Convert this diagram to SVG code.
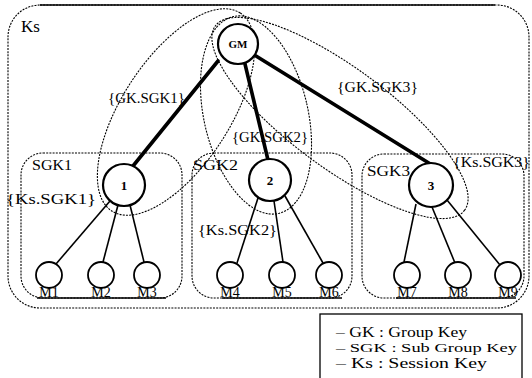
<svg xmlns="http://www.w3.org/2000/svg" width="532" height="378" viewBox="0 0 532 378">
<style>
  .dot{fill:none;stroke:#000;stroke-width:1.1;stroke-dasharray:2 1.2}
  .solid{fill:none;stroke:#000;stroke-width:1.6}
  .thick{stroke:#000;stroke-width:3.6;stroke-linecap:round}
  .thin{stroke:#000;stroke-width:1.6}
  .node{fill:#fff;stroke:#000;stroke-width:2.2}
  .leaf{fill:#fff;stroke:#000;stroke-width:1.8}
  text{font-family:"Liberation Serif","Times New Roman",serif;fill:#000}
  .lbl{font-size:15.5px}
  .nl{font-size:13px;font-weight:bold;text-anchor:middle}
  .ml{font-size:14px;text-anchor:middle}
</style>
<rect width="532" height="378" fill="#fff"/>

<g id="group-Ks">
  <rect class="dot" x="8" y="5" width="521" height="303" rx="32"/>
  <line class="solid" x1="40" y1="5" x2="495" y2="5"/>
  <text x="21" y="32" style="font-size:17px">Ks</text>
</g>

<g id="group-SGK1">
  <rect class="dot" x="21" y="153" width="161" height="145" rx="22"/>
  <line class="solid" x1="37" y1="298" x2="166" y2="298"/>
  <text class="lbl" x="32" y="170" textLength="40" lengthAdjust="spacingAndGlyphs">SGK1</text>
</g>
<g id="group-SGK2">
  <rect class="dot" x="192" y="153" width="160" height="145" rx="22"/>
  <line class="solid" x1="222" y1="298" x2="342" y2="298"/>
  <text class="lbl" x="193" y="170" textLength="45" lengthAdjust="spacingAndGlyphs">SGK2</text>
</g>
<g id="group-SGK3">
  <rect class="dot" x="362" y="154" width="162" height="144" rx="22"/>
  <line class="solid" x1="396" y1="298" x2="516" y2="298"/>
  <text class="lbl" x="367" y="176" textLength="43" lengthAdjust="spacingAndGlyphs">SGK3</text>
</g>

<g id="key-areas">
  <ellipse class="dot" cx="176" cy="112" rx="118" ry="54" transform="rotate(-57 176 112)"/>
  <ellipse class="dot" cx="256" cy="115" rx="52" ry="101" transform="rotate(-13 256 115)"/>
  <ellipse class="dot" cx="340" cy="118" rx="155" ry="50" transform="rotate(36.5 340 118)"/>
</g>

<g id="connectors">
  <line class="thick" x1="218" y1="61" x2="133" y2="166"/>
  <line class="thick" x1="245" y1="64" x2="268" y2="160"/>
  <line class="thick" x1="256" y1="56" x2="432" y2="165"/>
  <line class="thin" x1="110" y1="201" x2="56" y2="264"/>
  <line class="thin" x1="118" y1="205" x2="103" y2="262"/>
  <line class="thin" x1="130" y1="205" x2="144" y2="262"/>
  <line class="thin" x1="258" y1="198" x2="237" y2="263"/>
  <line class="thin" x1="274" y1="201" x2="283" y2="262"/>
  <line class="thin" x1="285" y1="196" x2="323" y2="263"/>
  <line class="thin" x1="416" y1="204" x2="404" y2="262"/>
  <line class="thin" x1="432" y1="207" x2="455" y2="263"/>
  <line class="thin" x1="447" y1="200" x2="500" y2="265"/>
</g>

<g id="key-labels">
  <text class="lbl" x="108" y="103" textLength="77" lengthAdjust="spacingAndGlyphs">{GK.SGK1}</text>
  <text class="lbl" x="232" y="142" textLength="76" lengthAdjust="spacingAndGlyphs">{GK.SGK2}</text>
  <text class="lbl" x="337" y="92" textLength="81" lengthAdjust="spacingAndGlyphs">{GK.SGK3}</text>
  <text class="lbl" x="6" y="204" textLength="90" lengthAdjust="spacingAndGlyphs">{Ks.SGK1}</text>
  <text class="lbl" x="198" y="235" textLength="79" lengthAdjust="spacingAndGlyphs">{Ks.SGK2}</text>
  <text class="lbl" x="453" y="167" textLength="77" lengthAdjust="spacingAndGlyphs">{Ks.SGK3}</text>
</g>

<g id="node-GM"><circle class="node" cx="238" cy="44" r="20"/><text class="nl" x="238" y="48" style="font-size:11px">GM</text></g>
<g id="node-1"><circle class="node" cx="124" cy="185" r="21"/><text class="nl" x="124" y="190">1</text></g>
<g id="node-2"><circle class="node" cx="270" cy="180" r="21"/><text class="nl" x="270" y="185">2</text></g>
<g id="node-3"><circle class="node" cx="431" cy="185" r="22"/><text class="nl" x="431" y="190">3</text></g>

<g id="node-M1"><circle class="leaf" cx="49" cy="275" r="13"/><text class="ml" x="49" y="297">M1</text></g>
<g id="node-M2"><circle class="leaf" cx="101" cy="275" r="13"/><text class="ml" x="101" y="297">M2</text></g>
<g id="node-M3"><circle class="leaf" cx="147" cy="275" r="13"/><text class="ml" x="147" y="297">M3</text></g>
<g id="node-M4"><circle class="leaf" cx="230" cy="275" r="13"/><text class="ml" x="230" y="297">M4</text></g>
<g id="node-M5"><circle class="leaf" cx="282" cy="275" r="13"/><text class="ml" x="282" y="297">M5</text></g>
<g id="node-M6"><circle class="leaf" cx="329" cy="275" r="13"/><text class="ml" x="329" y="297">M6</text></g>
<g id="node-M7"><circle class="leaf" cx="407" cy="275" r="13"/><text class="ml" x="407" y="297">M7</text></g>
<g id="node-M8"><circle class="leaf" cx="458" cy="275" r="13"/><text class="ml" x="458" y="297">M8</text></g>
<g id="node-M9"><circle class="leaf" cx="508" cy="275" r="13"/><text class="ml" x="508" y="297">M9</text></g>

<g id="legend">
  <rect x="320" y="314" width="202" height="70" fill="#fff" stroke="#000" stroke-width="1.3"/>
  <text x="336" y="337" style="font-size:15px" textLength="131" lengthAdjust="spacingAndGlyphs">– GK : Group Key</text>
  <text x="336" y="352" style="font-size:13px" textLength="181" lengthAdjust="spacingAndGlyphs">– SGK : Sub Group Key</text>
  <text x="336" y="368" style="font-size:15px" textLength="151" lengthAdjust="spacingAndGlyphs">– Ks : Session Key</text>
</g>
</svg>
